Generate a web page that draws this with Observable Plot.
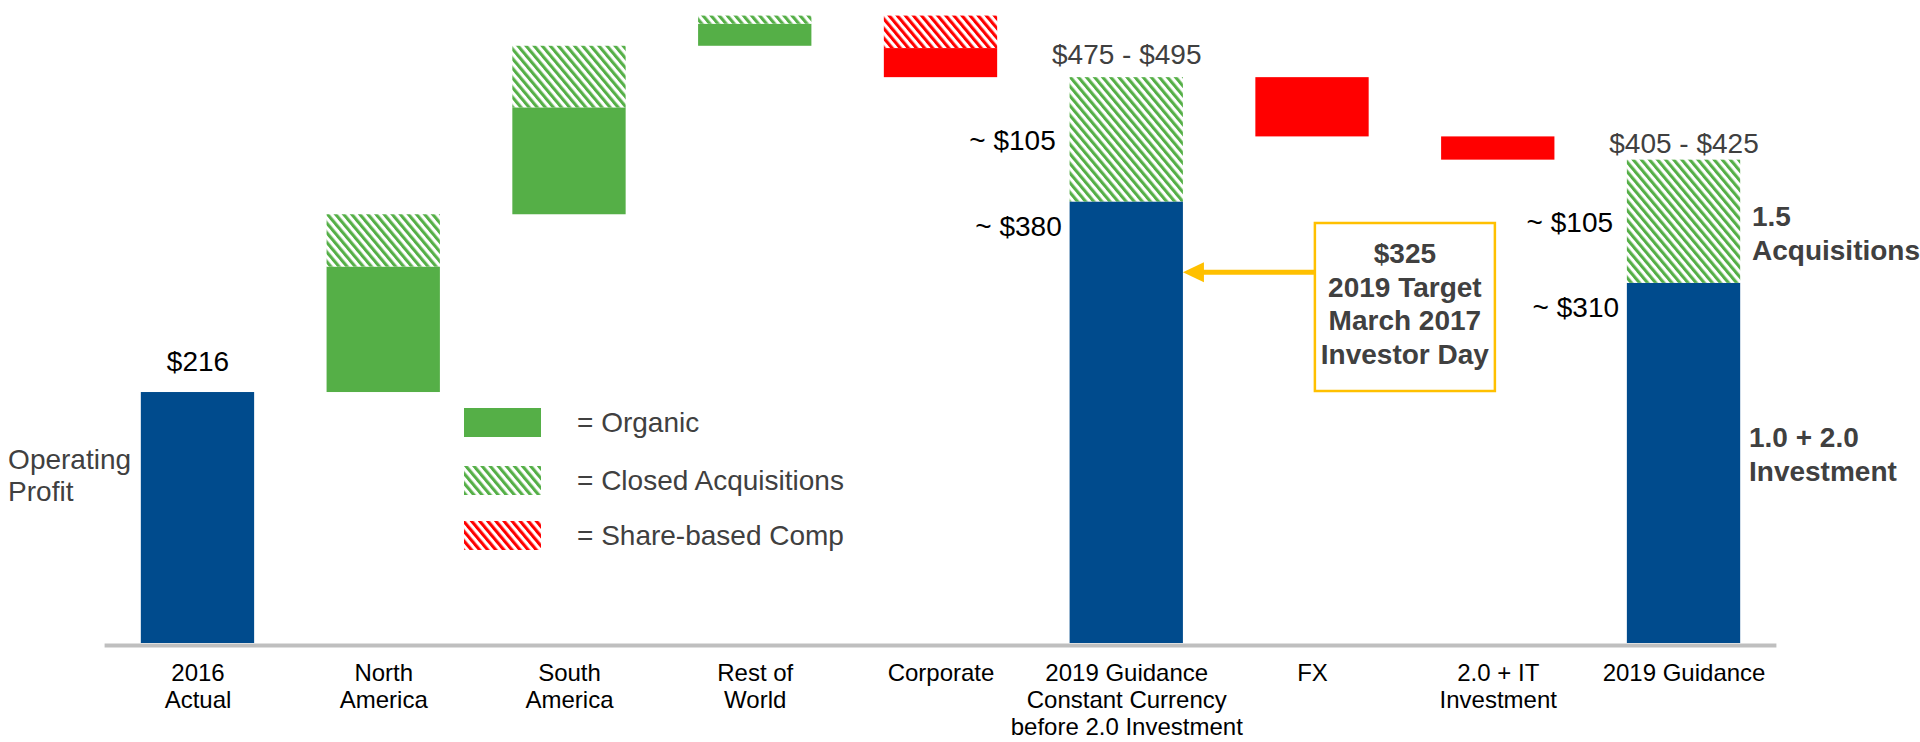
<!DOCTYPE html>
<html>
<head>
<meta charset="utf-8">
<script src="https://cdn.jsdelivr.net/npm/d3@7"></script>
<script src="https://cdn.jsdelivr.net/npm/@observablehq/plot@0.6"></script>
<style>
  html, body { margin: 0; padding: 0; background: #fff; }
  #chart { width: 1920px; height: 742px; overflow: hidden; }
  #chart svg { font-family: "Liberation Sans", Arial, Helvetica, sans-serif; display: block; }
</style>
</head>
<body>
<div id="chart"></div>
<script>
// ---------------- data ----------------
const CC = "2019 Guidance\nConstant Currency\nbefore 2.0 Investment";
const categories = ["2016\nActual", "North\nAmerica", "South\nAmerica", "Rest of\nWorld", "Corporate", CC, "FX", "2.0 + IT\nInvestment", "2019 Guidance"];

// blue total bars (from 0)
const totalCategory = ["2016\nActual", CC, "2019 Guidance"];
const totalValue = [216, 380, 310];

// floating waterfall segments
const segCategory = ["North\nAmerica", "North\nAmerica", "South\nAmerica", "South\nAmerica", "Rest of\nWorld", "Rest of\nWorld", "Corporate", "Corporate", CC, "FX", "2.0 + IT\nInvestment", "2019 Guidance"];
const segFrom = [216, 324, 369, 461, 514, 533, 540, 512, 380, 487, 436, 310];
const segTo   = [324, 369, 461, 514, 533, 540, 512, 487, 487, 436, 416, 416];
const segKind = ["organic", "acquisitions", "organic", "acquisitions", "organic", "acquisitions", "sharecomp", "decline", "acquisitions", "decline", "decline", "acquisitions"];

// labels
const startLabel = "$216";
const rangeLabels = ["$475 - $495", "$405 - $425"];
const acqLabels = ["~ $105", "~ $105"];
const baseLabels = ["~ $380", "~ $310"];
const legendLabels = ["= Organic", "= Closed Acquisitions", "= Share-based Comp"];
const legendKinds = ["organic", "acquisitions", "sharecomp"];
const calloutLines = ["$325", "2019 Target", "March 2017", "Investor Day"];
const calloutValue = 319; // level on the constant-currency bar the arrow points at

// ---------------- styling ----------------
const BLUE = "#004B8D", GREEN = "#55AF47", RED = "#FF0000", GRAY_AXIS = "#BFBFBF", TXT_GRAY = "#404040", GOLD = "#FFC000";
const kindFill = {organic: GREEN, acquisitions: "url(#hatchGreen)", sharecomp: "url(#hatchRed)", decline: RED};

const totals = totalCategory.map((c, i) => ({cat: c, value: totalValue[i]}));
const segs = segCategory.map((c, i) => ({cat: c, from: segFrom[i], to: segTo[i], kind: segKind[i]}));
const guideTops = [CC, "2019 Guidance"].map((c, i) => {
  const acq = segs.find(s => s.cat === c && s.kind === "acquisitions");
  return {cat: c, top: acq.to, base: acq.from, mid: (acq.from + acq.to) / 2, range: rangeLabels[i], acq: acqLabels[i], baseLabel: baseLabels[i]};
});

const marks = [
  Plot.barY(totals, {x: "cat", y1: 0, y2: "value", fill: BLUE}),
  ...Object.keys(kindFill).map(k => Plot.barY(segs.filter(s => s.kind === k), {x: "cat", y1: "from", y2: "to", fill: kindFill[k]})),
  Plot.ruleY([0], {stroke: GRAY_AXIS, strokeWidth: 4, dy: 2}),
  // category labels
  Plot.text(categories, {x: d => d, text: d => d, frameAnchor: "bottom", lineAnchor: "top", dy: 18.5, fontSize: 24, lineHeight: 1.12, fill: "#000"}),
  // $216
  Plot.text([totals[0]], {x: "cat", y: "value", text: () => startLabel, dy: -30, fontSize: 28, fill: "#000"}),
  // range labels
  Plot.text([guideTops[0]], {x: "cat", y: "top", text: "range", dy: -23, fontSize: 28, fill: TXT_GRAY}),
  Plot.text([guideTops[1]], {x: "cat", y: "top", text: "range", dy: -16, fontSize: 28, fill: TXT_GRAY}),
  // ~ $105
  Plot.text(guideTops, {x: "cat", y: "mid", text: "acq", dx: -71, dy: 1, textAnchor: "end", fontSize: 28, fill: "#000"}),
  // ~ $380 / ~ $310
  Plot.text(guideTops, {x: "cat", y: "base", text: "baseLabel", dx: -65, dy: 25, textAnchor: "end", fontSize: 28, fill: "#000"}),
  // right side notes on 2019 Guidance
  Plot.text([guideTops[1]], {x: "cat", y: "mid", text: () => "1.5\nAcquisitions", dx: 68, dy: 10, textAnchor: "start", fontSize: 28, fontWeight: "bold", lineHeight: 1.21, fill: TXT_GRAY}),
  Plot.text([totals[2]], {x: "cat", y: d => d.value / 2, text: () => "1.0 + 2.0\nInvestment", dx: 65, dy: -10, textAnchor: "start", fontSize: 28, fontWeight: "bold", lineHeight: 1.21, fill: TXT_GRAY}),
  // y title
  Plot.text(["Operating\nProfit"], {frameAnchor: "bottom-left", lineAnchor: "middle", text: d => d, dx: -97, dy: -169, textAnchor: "start", fontSize: 28, lineHeight: 1.14, fill: TXT_GRAY})
];

const plot = Plot.plot({
  width: 1920,
  height: 742,
  marginLeft: 104.6,
  marginRight: 143.6,
  marginTop: 0,
  marginBottom: 99,
  x: {domain: categories, paddingInner: 0.39, paddingOuter: 0.195, round: false, axis: null},
  y: {domain: [0, 553.4], axis: null},
  style: {fontFamily: '"Liberation Sans", Arial, Helvetica, sans-serif', background: "#fff", overflow: "visible"},
  marks
});

const svg = d3.select(plot);
const defs = svg.insert("defs", ":first-child");
function hatch(id, color, w, stripe, angle) {
  const p = defs.append("pattern").attr("id", id).attr("patternUnits", "userSpaceOnUse")
    .attr("width", w).attr("height", 10).attr("patternTransform", `rotate(${angle})`);
  p.append("rect").attr("width", w).attr("height", 10).attr("fill", "#fff");
  p.append("rect").attr("width", stripe).attr("height", 10).attr("fill", color);
}
hatch("hatchGreen", GREEN, 6.2, 3.1, -40);
hatch("hatchRed", RED, 6.2, 3.1, -40);

// legend (layout)
const legendFill = {organic: GREEN, acquisitions: "url(#hatchGreen)", sharecomp: "url(#hatchRed)"};
const legendRowY = [422, 480, 535];
const lg = svg.append("g").attr("text-anchor", "start");
legendKinds.forEach((k, i) => {
  lg.append("rect").attr("x", 464).attr("y", legendRowY[i] - 14).attr("width", 77).attr("height", 29).attr("fill", legendFill[k]);
  lg.append("text").attr("x", 577).attr("y", legendRowY[i]).attr("dy", "0.35em").attr("text-anchor", "start")
    .attr("font-size", 28).attr("fill", TXT_GRAY).text(legendLabels[i]);
});

// callout box + arrow
const xs = plot.scale("x"), ys = plot.scale("y");
const bw = xs.bandwidth;
const tipX = xs.apply(CC) + bw;
const boxCx = (xs.apply("FX") + xs.apply("2.0 + IT\nInvestment")) / 2 + bw / 2;
const boxW = 180, boxTop = 223, boxH = 168;
const ay = ys.apply(calloutValue);
const cg = svg.append("g");
cg.append("line").attr("x1", boxCx - boxW / 2).attr("x2", tipX + 18).attr("y1", ay).attr("y2", ay)
  .attr("stroke", GOLD).attr("stroke-width", 5);
cg.append("path").attr("d", `M${tipX},${ay} L${tipX + 21},${ay - 10} L${tipX + 21},${ay + 10} Z`).attr("fill", GOLD);
cg.append("rect").attr("x", boxCx - boxW / 2).attr("y", boxTop).attr("width", boxW).attr("height", boxH)
  .attr("fill", "#fff").attr("stroke", GOLD).attr("stroke-width", 2.5);
const ct = cg.append("text").attr("text-anchor", "middle").attr("font-size", 28).attr("font-weight", "bold").attr("fill", TXT_GRAY);
calloutLines.forEach((t, i) => {
  ct.append("tspan").attr("x", boxCx).attr("y", 253 + i * 33.7).attr("dy", "0.35em").text(t);
});

document.getElementById("chart").appendChild(plot);
</script>
</body>
</html>
